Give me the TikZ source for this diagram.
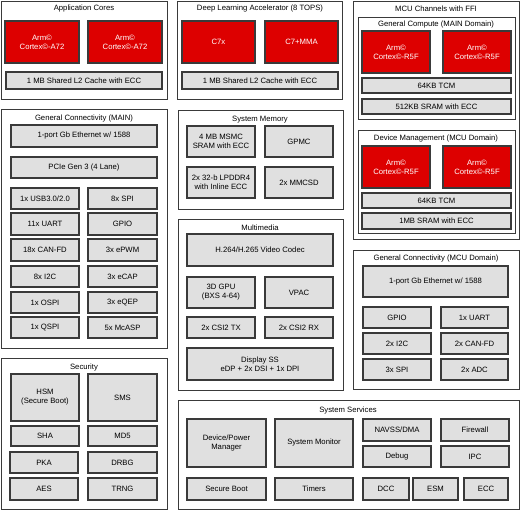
\documentclass[tikz,border=0pt]{standalone}
\usepackage{fontspec}
\setmainfont{Liberation Sans}
\definecolor{tired}{HTML}{DD0000}
\definecolor{boxgray}{HTML}{E0E0E0}
\definecolor{edge}{HTML}{3A3A3A}
\newcommand\blk[7][gbox]{\node[#1, minimum width={#5-#3}, minimum height={#6-#4}] (#2) at ({(#3+#5)/2},{(#4+#6)/2}) {#7};}
\begin{document}
\begin{tikzpicture}[x=1pt,y=-1pt,
  every node/.style={inner sep=0pt, outer sep=0pt, font=\fontsize{7.7}{9}\selectfont, align=center},
  obox/.style={draw=edge, line width=0.8pt, fill=white},
  gbox/.style={draw=edge, line width=1.1pt, fill=boxgray, text=black},
  rbox/.style={draw=edge, line width=1.1pt, fill=tired, text=white},
  ttl/.style={text=black}]
\useasboundingbox (0,0) rectangle (525,510);
% Application cores
\blk[obox]{app}{1}{1}{167}{99}{}
\node[ttl] (appt) at (84,9) {Application Cores};
\blk[rbox]{a1}{5}{21}{79}{63}{Arm©\\Cortex©-A72}
\blk[rbox]{a2}{88}{21}{162}{63}{Arm©\\Cortex©-A72}
\blk{al2}{6}{72}{162}{89}{1 MB Shared L2 Cache with ECC}
% Deep learning
\blk[obox]{dla}{177}{1}{342}{99}{}
\node[ttl] (dlat) at (260,9) {Deep Learning Accelerator (8 TOPS)};
\blk[rbox]{c7x}{182}{21}{255}{63}{C7x}
\blk[rbox]{c7m}{265}{21}{338}{63}{C7+MMA}
\blk{dl2}{182}{72}{338}{89}{1 MB Shared L2 Cache with ECC}
% MCU channels
\blk[obox]{mcu}{353}{1}{519}{239}{}
\node[ttl] (mcut) at (436,9) {MCU Channels with FFI};
\blk[obox]{gc}{358}{17}{515}{119}{}
\node[ttl] (gct) at (436,25) {General Compute (MAIN Domain)};
\blk[rbox]{r1}{362}{31}{430}{73}{Arm©\\Cortex©-R5F}
\blk[rbox]{r2}{443}{31}{511}{73}{Arm©\\Cortex©-R5F}
\blk{tcm1}{362}{78}{511}{93}{64KB TCM}
\blk{sram1}{362}{99}{511}{114}{512KB SRAM with ECC}
\blk[obox]{dm}{358}{130}{515}{233}{}
\node[ttl] (dmt) at (436,139) {Device Management (MCU Domain)};
\blk[rbox]{r3}{362}{146}{430}{188}{Arm©\\Cortex©-R5F}
\blk[rbox]{r4}{443}{146}{511}{188}{Arm©\\Cortex©-R5F}
\blk{tcm2}{362}{193}{511}{208}{64KB TCM}
\blk{sram2}{362}{213}{511}{229}{1MB SRAM with ECC}
% General connectivity MAIN
\blk[obox]{gcm}{1}{109}{167}{348}{}
\node[ttl] (gcmt) at (84,119) {General Connectivity (MAIN)};
\blk{eth}{11}{125}{157}{147}{1-port Gb Ethernet w/ 1588}
\blk{pcie}{11}{157}{157}{178}{PCIe Gen 3 (4 Lane)}
\blk{usb}{11}{188}{79}{209}{1x USB3.0/2.0}
\blk{spi}{88}{188}{157}{209}{8x SPI}
\blk{uart}{11}{213}{79}{235}{11x UART}
\blk{gpio}{88}{213}{157}{235}{GPIO}
\blk{can}{11}{239}{79}{261}{18x CAN-FD}
\blk{epwm}{88}{239}{157}{261}{3x ePWM}
\blk{i2c}{11}{266}{79}{287}{8x I2C}
\blk{ecap}{88}{266}{157}{287}{3x eCAP}
\blk{ospi}{11}{292}{79}{313}{1x OSPI}
\blk{eqep}{88}{292}{157}{313}{3x eQEP}
\blk{qspi}{11}{317}{79}{338}{1x QSPI}
\blk{mcasp}{88}{317}{157}{338}{5x McASP}
% System memory
\blk[obox]{sm}{178}{110}{343}{209}{}
\node[ttl] (smt) at (260,120) {System Memory};
\blk{msmc}{187}{126}{255}{157}{4 MB MSMC\\SRAM with ECC}
\blk{gpmc}{265}{126}{333}{157}{GPMC}
\blk{lpddr}{187}{167}{255}{198}{2x 32-b LPDDR4\\with Inline ECC}
\blk{mmc}{265}{167}{333}{198}{2x MMCSD}
% Multimedia
\blk[obox]{mm}{178}{219}{343}{390}{}
\node[ttl] (mmt) at (260,228) {Multimedia};
\blk{codec}{187}{234}{333}{266}{H.264/H.265 Video Codec}
\blk{gpu}{187}{277}{255}{308}{3D GPU\\(BXS 4-64)}
\blk{vpac}{265}{277}{333}{308}{VPAC}
\blk{csitx}{187}{317}{255}{338}{2x CSI2 TX}
\blk{csirx}{265}{317}{333}{338}{2x CSI2 RX}
\blk{dss}{187}{348}{333}{380}{Display SS\\eDP + 2x DSI + 1x DPI}
% General connectivity MCU
\blk[obox]{gcu}{353}{250}{519}{389}{}
\node[ttl] (gcut) at (436,259) {General Connectivity (MCU Domain)};
\blk{meth}{363}{266}{508}{297}{1-port Gb Ethernet w/ 1588}
\blk{mgpio}{363}{307}{431}{328}{GPIO}
\blk{muart}{441}{307}{508}{328}{1x UART}
\blk{mi2c}{363}{333}{431}{354}{2x I2C}
\blk{mcan}{441}{333}{508}{354}{2x CAN-FD}
\blk{mspi}{363}{359}{431}{380}{3x SPI}
\blk{madc}{441}{359}{508}{380}{2x ADC}
% Security
\blk[obox]{sec}{1}{358}{167}{509}{}
\node[ttl] (sect) at (84,368) {Security};
\blk{hsm}{11}{374}{79}{421}{HSM\\(Secure Boot)}
\blk{sms}{88}{374}{157}{421}{SMS}
\blk{sha}{11}{426}{79}{446}{SHA}
\blk{md5}{88}{426}{157}{446}{MD5}
\blk{pka}{10}{452}{78}{473}{PKA}
\blk{drbg}{88}{452}{157}{473}{DRBG}
\blk{aes}{10}{478}{78}{500}{AES}
\blk{trng}{88}{478}{157}{500}{TRNG}
% System services
\blk[obox]{ss}{178}{400}{519}{509}{}
\node[ttl] (sst) at (348,411) {System Services};
\blk{dpm}{187}{419}{266}{467}{Device/Power\\Manager}
\blk{smon}{275}{419}{353}{467}{System Monitor}
\blk{navss}{363}{419}{431}{441}{NAVSS/DMA}
\blk{fw}{441}{419}{509}{441}{Firewall}
\blk{dbg}{363}{446}{431}{467}{Debug}
\blk{ipc}{441}{446}{509}{467}{IPC}
\blk{sboot}{187}{478}{266}{500}{Secure Boot}
\blk{tim}{275}{478}{353}{500}{Timers}
\blk{dcc}{363}{478}{409}{500}{DCC}
\blk{esm}{413}{478}{458}{500}{ESM}
\blk{ecc}{464}{478}{508}{500}{ECC}
\end{tikzpicture}
\end{document}
